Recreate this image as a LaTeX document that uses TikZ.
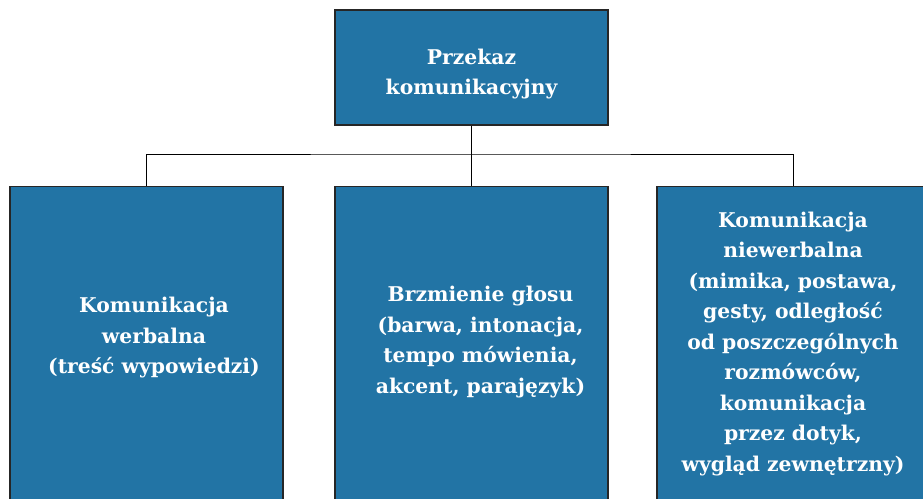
\documentclass[tikz,border=0pt]{standalone}
\usepackage{fontspec}
\setmainfont{DejaVu Serif}
\definecolor{boxblue}{HTML}{2274A5}
\tikzset{
  bluebox/.style={draw=black!85, line width=1.2pt, fill=boxblue, inner sep=0pt},
  boxtext/.style={text=white, font=\bfseries\fontsize{20.3}{30.5}\selectfont, align=center, inner sep=0pt},
  conn/.style={draw=black, line width=1pt}
}
\begin{document}
\begin{tikzpicture}[x=1pt,y=-1pt]
\useasboundingbox (0,0) rectangle (923,498);
\clip (0,0) rectangle (923,498);
% boxes
\node[bluebox, minimum width=273pt, minimum height=115pt] (top) at (471.5,67.5) {};
\node[bluebox, minimum width=273pt, minimum height=330pt, anchor=north] (left) at (146.5,185.5) {};
\node[bluebox, minimum width=273pt, minimum height=330pt, anchor=north] (mid) at (471.5,185.5) {};
\node[bluebox, minimum width=273pt, minimum height=330pt, anchor=north] (right) at (793.5,185.5) {};
% texts
\node[boxtext] (ttop) at (471.5,74) {Przekaz\\komunikacyjny};
\node[boxtext] (tleft) at (154,338) {Komunikacja\\werbalna\\(treść wypowiedzi)};
\node[boxtext] (tmid) at (480.5,342) {Brzmienie głosu\\(barwa, intonacja,\\tempo mówienia,\\akcent, parajęzyk)};
\node[boxtext] (tright) at (793,344) {Komunikacja\\niewerbalna\\(mimika, postawa,\\gesty, odległość\\od poszczególnych\\rozmówców,\\komunikacja\\przez dotyk,\\wygląd zewnętrzny)};
% connectors
\coordinate (bus) at (471.5,154);
\draw[conn] (top.south) -- (mid.north);
\draw[conn] (left.north) |- (bus) -| (right.north);
\end{tikzpicture}
\end{document}
